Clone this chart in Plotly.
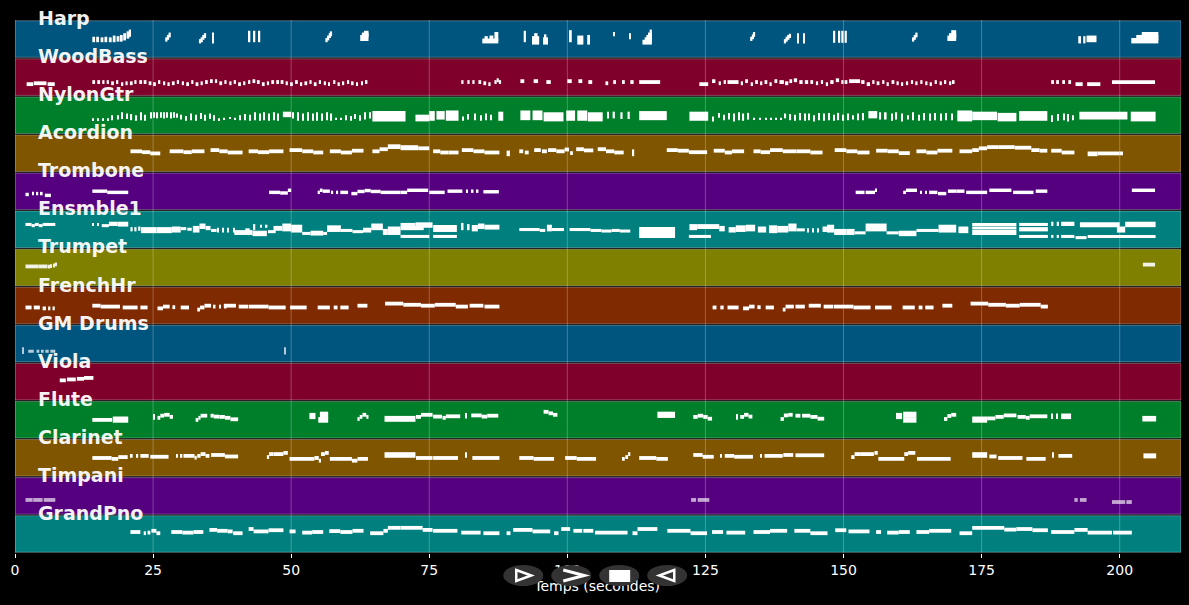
import plotly.graph_objects as go

WIDTH = 1189
HEIGHT = 605
LEFT = 14.5
RIGHT = 8
TOP = 20
AXIS_BOTTOM = 553

TIME_MAX = 211.1
TIME_TICKS = [0, 25, 50, 75, 100, 125, 150, 175, 200]
X_TITLE = "Temps (secondes)"

TRACK_NAMES = [
    "Harp", "WoodBass", "NylonGtr", "Acordion", "Trombone", "Ensmble1", "Trumpet",
    "FrenchHr", "GM Drums", "Viola", "Flute", "Clarinet", "Timpani", "GrandPno",
]
BAND_COLORS = [
    "#00557f", "#7f002a", "#007f2a", "#7f5500", "#55007f", "#007f7f", "#7f7f00",
    "#7f2a00", "#00557f", "#7f002a", "#007f2a", "#7f5500", "#55007f", "#007f7f",
]
NOTE_OPACITY = [1, 1, 1, 1, 1, 1, 0.9, 1, 0.7, 1, 1, 1, 0.65, 1]
NOTE_HEIGHTS = [0.08, 0.1, 0.05, 0.1, 0.09, 0.08, 0.1, 0.1, 0.08, 0.1, 0.1, 0.1, 0.1, 0.1]

# notes are (start, end, pitch) or (start, end, low pitch, high pitch) for stacks
HARP = [
    (14, 14.5, 58, 66), (14.7, 15.2, 58, 66), (15.5, 16, 58, 64), (16.2, 16.7, 58, 66),
    (17, 17.5, 58, 64), (17.7, 18.2, 58, 70), (18.4, 18.9, 60, 68), (19, 19.5, 60, 72),
    (19.6, 20.1, 64, 78), (20.2, 20.7, 70, 84), (20.6, 21, 76, 90),
    (27.2, 27.6, 60, 64), (27.5, 27.9, 66, 72), (27.8, 28.2, 74, 80),
    (33.3, 33.7, 54, 58), (33.6, 34, 58, 64), (33.9, 34.3, 66, 72), (34.2, 34.6, 72, 78), (35.7, 36, 54, 80),
    (42.3, 42.6, 58, 86), (43.2, 43.5, 58, 86), (44.1, 44.4, 58, 86),
    (56.2, 56.6, 58, 62), (56.5, 56.9, 64, 70), (56.8, 57.2, 72, 78), (57, 57.4, 78, 84),
    (62.5, 64, 62, 72), (62.8, 64, 74, 80), (63.2, 64, 80, 86),
    (84.6, 87.5, 54, 60), (85, 85.6, 62, 68), (85.9, 86.6, 62, 70), (86.8, 87.5, 62, 82),
    (92.1, 92.5, 58, 86), (93.6, 94.9, 50, 68), (94, 94.6, 70, 78), (95.6, 96.5, 50, 64), (95.9, 96.2, 66, 74),
    (100.3, 100.8, 58, 88), (101.8, 102.9, 50, 70), (103.6, 104.1, 50, 72),
    (108.3, 108.5, 78, 82), (111.2, 111.5, 68, 78),
    (113.6, 115.3, 50, 56), (114, 115.3, 58, 64), (114.3, 115.3, 66, 72), (114.6, 115.3, 74, 80), (114.9, 115.3, 82, 90),
    (133.1, 133.5, 62, 66), (133.4, 133.8, 68, 74), (133.6, 134, 76, 82),
    (139.2, 139.6, 54, 58), (139.5, 139.9, 60, 66), (139.8, 140.2, 66, 72), (140.1, 140.5, 72, 76),
    (141.6, 141.9, 54, 78), (142.7, 143, 54, 78),
    (148.1, 148.5, 56, 86), (149, 149.4, 56, 86), (149.6, 150, 56, 86), (150.2, 150.6, 56, 86),
    (162.4, 162.8, 60, 64), (162.7, 163.1, 66, 72), (163, 163.4, 74, 80),
    (168.8, 170.4, 62, 70), (169.1, 170.4, 72, 78), (169.5, 170.4, 80, 88),
    (192.5, 193, 54, 68), (193.4, 193.8, 54, 68), (194, 195.8, 58, 70),
    (202.1, 207, 54, 62), (203, 207, 64, 72), (204, 207, 74, 82),
]
WOODBASS = [
    (2.1, 3.3, 40), (3.4, 5.7, 43), (5.9, 7.2, 40),
    (14, 14.5, 47), (14.9, 15.4, 47), (15.8, 16.2, 47), (16.6, 17, 47), (17.4, 17.9, 43), (18.3, 18.7, 47),
    (19.2, 19.6, 40), (20, 20.4, 43), (20.8, 21.3, 43), (21.6, 22, 47), (22.5, 23, 47), (23.3, 23.8, 47),
    (24.2, 24.7, 43), (25, 25.5, 40), (25.9, 26.3, 47), (26.8, 27.2, 43), (27.6, 28, 40), (28.4, 28.9, 43),
    (29.3, 29.7, 47), (30.2, 30.6, 43), (31, 31.5, 40), (31.9, 32.3, 47), (32.7, 33.2, 40), (33.6, 34, 43),
    (34.4, 34.9, 47), (35.3, 35.8, 50), (36.2, 36.6, 50), (37, 37.5, 43), (37.9, 38.3, 47), (38.8, 39.2, 43),
    (39.6, 40, 47), (40.4, 40.9, 40), (41.3, 41.7, 43), (42.2, 42.6, 47), (43, 43.5, 50), (43.8, 44.3, 47),
    (44.7, 45.2, 40), (45.6, 46, 43), (46.4, 46.9, 47), (47.3, 47.8, 47), (48.1, 48.6, 47), (49, 49.4, 43),
    (49.8, 50.3, 40), (50.7, 51.2, 47), (51.6, 52, 40), (52.4, 52.9, 43), (53.3, 53.7, 47), (54.1, 54.6, 40),
    (55, 55.4, 47), (55.9, 56.3, 43), (56.7, 57, 40), (57.6, 58, 47), (58.4, 58.8, 40), (59.3, 59.6, 43),
    (60.1, 60.5, 47), (61, 61.3, 43), (61.8, 62.1, 40), (62.7, 63, 43), (63.5, 63.8, 47),
    (80.8, 81.2, 47), (81.9, 82.3, 47), (82.8, 83.2, 47), (83.9, 84.4, 47), (84.8, 85.3, 43), (85.7, 86.1, 40),
    (86.8, 87.2, 47), (87.2, 87.6, 53), (87.6, 88, 47),
    (91.5, 92.2, 50), (93.9, 94.7, 50), (96.2, 97, 47), (100, 100.8, 50), (102, 102.7, 50), (103.8, 104.5, 47),
    (106.9, 107.4, 43), (108.3, 108.8, 47), (109.9, 110.4, 47), (111.4, 112, 47),
    (113, 116.8, 47), (123.9, 125.5, 40),
    (126.2, 126.8, 50), (127.4, 127.8, 43), (128.3, 128.7, 47), (129, 131, 47), (131.4, 131.8, 43),
    (132.2, 132.7, 50), (133.2, 133.6, 40), (134, 134.5, 47), (134.9, 135.3, 43), (135.7, 136.2, 47),
    (136.6, 137, 40), (137.5, 138, 50), (138.4, 139.2, 47), (139.4, 140, 43), (140.2, 140.7, 50),
    (141, 141.6, 53), (142, 142.6, 47), (143, 143.6, 47), (144, 144.5, 47), (145, 145.4, 43), (145.9, 146.3, 47),
    (146.8, 147.2, 40), (147.6, 148.2, 47), (148.6, 149.2, 53), (149.6, 150, 47), (150.2, 150.7, 47),
    (151, 153, 50), (153.2, 153.8, 47), (154.2, 154.8, 40), (155.2, 155.6, 47), (156, 156.5, 43),
    (157, 157.4, 47), (157.8, 158.2, 40), (158.7, 159.2, 47), (159.6, 160, 43), (160.5, 160.8, 40),
    (161.3, 161.7, 43), (162.2, 162.6, 47), (163, 163.4, 43), (163.9, 164.3, 47), (164.8, 165.2, 43),
    (165.6, 166, 40), (166.5, 166.9, 47), (167.4, 167.8, 43), (168.2, 168.6, 47), (169.1, 169.5, 43), (169.8, 170.1, 47),
    (187.6, 188.1, 47), (188.5, 189, 47), (189.6, 190.1, 47), (190.7, 191.2, 47),
    (192, 193.3, 40), (194.1, 196.5, 40), (198.6, 206.4, 47),
]
NYLONGTR = [
    (14, 14.2, 50), (15, 15.2, 50), (15.9, 16.1, 50), (16.7, 16.9, 50),
    (17.5, 17.7, 50, 60), (18.5, 18.7, 52, 60), (19.3, 19.5, 54, 70), (20.2, 20.4, 54, 66), (21, 21.2, 50, 64),
    (21.9, 22.1, 48, 60), (22.7, 22.9, 50, 70), (23.5, 23.7, 48, 62), (24.5, 24.7, 56, 70), (25.1, 25.3, 58, 70),
    (25.7, 25.9, 56, 70), (26.3, 26.5, 58, 70), (26.9, 27.1, 56, 70), (27.5, 27.7, 58, 70), (28.1, 28.3, 56, 70),
    (28.7, 28.9, 58, 70), (29.3, 29.5, 58, 66), (30, 30.2, 52, 62), (30.9, 31.1, 48, 58), (31.8, 32, 50, 66),
    (32.6, 32.8, 48, 62), (33.5, 33.7, 54, 68), (34.3, 34.5, 48, 62), (35.2, 35.4, 54, 66), (36, 36.2, 48, 60),
    (36.9, 37.1, 50), (37.8, 38, 52), (38.8, 39, 54), (39.7, 39.9, 52), (40.6, 40.8, 50, 60), (41.5, 41.7, 50, 64),
    (42.4, 42.6, 48, 62), (43.3, 43.5, 50, 70), (44.2, 44.4, 48, 66), (45, 45.2, 50, 70), (45.9, 46.1, 48, 66),
    (46.8, 47, 50, 70), (47.6, 47.8, 48, 66), (48.5, 50, 60, 72), (50.2, 50.5, 56, 70), (51.1, 51.3, 48, 70),
    (52, 52.2, 48, 66), (52.9, 53.1, 48, 70), (53.8, 54, 48, 66), (54.6, 54.8, 48, 70), (55.5, 55.7, 48, 66),
    (56.4, 56.6, 50, 70), (57.2, 57.4, 48, 66), (58, 58.2, 52), (59, 59.2, 52), (59.9, 60.1, 50, 60),
    (60.8, 61, 48, 58), (61.5, 61.7, 54, 64), (62.4, 62.6, 48, 60), (63.2, 63.4, 52, 70),
    (64.1, 64.3, 56, 70), (64.7, 70.7, 46, 74), (72.5, 75, 46, 62), (75, 76, 48, 74), (76.3, 77.8, 52, 74), (78, 80.3, 48, 76),
    (81, 81.2, 48, 56), (82, 82.2, 52, 64), (83.1, 83.3, 50, 66), (84.2, 84.4, 48, 60), (85.1, 85.3, 50, 66),
    (86, 86.2, 50, 62), (87.5, 88.4, 48, 72),
    (91.5, 93.3, 50, 76), (93.7, 95.5, 50, 76), (95.7, 99.3, 46, 70), (99.8, 101.4, 48, 76), (101.8, 103.6, 48, 76), (103.7, 106.4, 46, 70),
    (107.2, 107.5, 56, 72), (108.2, 108.6, 56, 72), (109.6, 110, 54, 70), (110.9, 111.3, 54, 72),
    (113, 118, 50, 74), (122.1, 125.5, 48, 72),
    (126.2, 126.4, 46, 56), (127.4, 127.6, 58, 68), (128.3, 128.5, 50, 62), (129.2, 129.4, 52, 68), (130.1, 130.3, 46, 66),
    (131, 131.2, 50, 70), (131.8, 132, 48, 66), (132.7, 132.9, 52, 68), (133.7, 133.9, 52), (134.8, 135, 52), (135.8, 136, 52),
    (136.8, 137, 52), (137.7, 137.9, 52), (138.6, 138.8, 52), (139.4, 139.6, 56, 66), (140.3, 140.5, 50, 64),
    (141.1, 141.3, 48, 62), (142, 142.2, 50, 68), (142.9, 143.1, 48, 66), (143.7, 143.9, 50, 66), (144.6, 144.8, 46, 60),
    (145.5, 145.7, 50, 68), (146.4, 146.6, 48, 66), (147.3, 147.5, 50, 68), (148.2, 148.4, 48, 62), (149, 149.2, 50, 68),
    (149.9, 150.1, 48, 62), (150.8, 151, 50, 66), (151.7, 151.9, 52, 60), (152.5, 152.7, 50, 66), (153.4, 153.6, 50, 68),
    (154.5, 156.1, 56, 74), (156.5, 156.8, 52, 70), (157.5, 157.8, 52, 70), (158.6, 158.8, 48, 66), (159.5, 159.7, 52, 70),
    (160.5, 160.7, 46, 66), (161.5, 161.7, 52, 60), (162.5, 162.7, 50, 70), (163.5, 163.7, 48, 62),
    (164.5, 164.7, 50, 68), (165.5, 165.7, 48, 66), (166.5, 166.7, 50, 68), (167.5, 167.7, 48, 66), (168.5, 168.7, 50, 68), (169.6, 169.8, 50, 66),
    (170.6, 173.3, 46, 76), (173.3, 177.8, 50, 72), (177.9, 181.3, 46, 68), (181.8, 186.9, 48, 74),
    (187.6, 187.8, 44, 60), (188.8, 189, 48, 64), (189.8, 190, 50, 66), (190.5, 190.7, 46, 64), (191.5, 191.7, 50, 60),
    (192.7, 201.4, 52, 72), (202, 206.5, 46, 72),
]
ACORDION = [
    (20.9, 23, 70), (23, 24.5, 67), (24.5, 26.3, 63), (28, 30.5, 70), (30.5, 32, 67), (32, 34.3, 70),
    (35.4, 37, 74), (37, 38.5, 70), (38.5, 41.2, 66), (42.3, 44, 70), (44, 46, 67), (46, 48.6, 70),
    (49.7, 52, 74), (52, 54, 70), (54, 55.8, 66), (57, 59, 70), (59, 61, 66), (61, 63.1, 72),
    (64.7, 66, 70), (66, 67.5, 77), (67.5, 69.8, 84, 87), (69.8, 73, 80, 84), (73, 75, 80), (75.7, 77, 70),
    (77, 78.5, 66), (78.5, 80.3, 66), (80.9, 83, 74), (83, 85, 70), (85, 87.7, 66), (89, 89.6, 60, 66),
    (91.3, 92, 70), (92.3, 93, 66), (94, 95.2, 74), (95.4, 96.3, 70), (96.5, 98, 74), (98, 99.5, 70), (99.5, 100.3, 76), (100.5, 101, 64),
    (101.6, 103, 77), (103, 104.7, 73), (105.5, 107, 77), (107, 108.5, 70), (108.5, 110.2, 66), (111.8, 112.1, 60, 70),
    (118, 120, 74), (120, 122, 72), (122, 125.3, 67), (126.5, 128.5, 72), (128.5, 129.8, 66), (129.8, 132, 70),
    (133.7, 135, 70), (135, 136.7, 67), (136.7, 139, 74), (139, 141.5, 70), (141.5, 144, 70), (144, 146.2, 66),
    (148.4, 150.5, 74), (150.5, 152.5, 70), (152.5, 154.7, 66), (155.9, 158, 72), (158, 160, 70), (160, 162, 64),
    (163.2, 165, 70), (165, 167, 66), (167, 169.7, 72), (171, 173.3, 70), (173.3, 174.5, 74), (174.5, 176, 80),
    (176, 178, 84), (178, 181, 84), (181, 184, 82), (184, 185.5, 74), (185.5, 186.9, 72),
    (187.6, 189.5, 72), (189.5, 191.8, 66), (194.2, 196, 60, 63), (196, 200, 63), (200, 200.6, 63),
]
TROMBONE = [
    (1.9, 2.5, 53), (3.1, 3.4, 56), (3.9, 4.2, 56), (4.7, 5, 56), (5.4, 6.5, 50),
    (14, 16.7, 64), (16.7, 20.5, 60),
    (46, 48, 60), (48, 49.4, 58), (49.4, 50, 67),
    (54.8, 55.2, 60), (55.2, 55.7, 67), (55.7, 57, 64), (57.2, 57.6, 60), (58.2, 58.5, 60), (58.9, 60.3, 60),
    (60.9, 62, 56), (62, 63.3, 63), (63.3, 64.4, 66), (64.4, 66.2, 63), (66.2, 69.8, 60), (69.8, 71, 60),
    (71, 74.8, 67), (75, 77.8, 60), (78.3, 81, 64), (81.8, 82, 64), (82.7, 83, 64), (83.6, 83.9, 64), (84.8, 87.6, 62),
    (152.2, 153.8, 60), (154, 155.7, 60), (155.7, 156, 67),
    (160.8, 161.3, 60), (161.3, 163.3, 67), (163.9, 164.2, 60), (164.8, 165.1, 60), (165.5, 167, 60), (167.1, 168.6, 56),
    (168.9, 170.5, 64), (170.5, 171.9, 64), (172.2, 176, 60), (176.4, 180.4, 67), (180.7, 184.4, 60), (184.8, 186.9, 64),
    (202.2, 206.4, 67),
]
ENSMBLE1 = [
    (1.9, 3, 80), (3, 3.6, 76), (3.6, 4.3, 80), (4.3, 5, 76), (5, 7.3, 80),
    (14, 14.3, 80), (14.9, 15.2, 80), (15.7, 17, 76), (17, 18.6, 80, 84), (18.6, 20.5, 78, 84),
    (20.9, 21.3, 62, 66), (21.6, 22, 62, 66), (22.3, 22.7, 64, 68),
    (22.8, 25.6, 56, 66), (25.6, 28.4, 56, 66), (28.4, 30, 58, 68), (30, 31, 66), (31.2, 32, 64), (32.2, 33.4, 58, 70),
    (33.4, 34.5, 70, 78), (34.5, 35.4, 66, 70), (35.5, 36.5, 60), (36.7, 36.9, 58, 64), (37.6, 37.8, 58, 64), (38.5, 38.7, 58, 64), (39.5, 39.7, 58, 64),
    (39.7, 43, 50, 56), (43, 45.6, 46, 54), (41.7, 42.5, 62), (43.2, 43.5, 66, 76), (44.4, 44.7, 74), (45.4, 45.7, 74),
    (45.8, 47.2, 56), (46.8, 48.4, 64, 70), (48.4, 50, 62, 78), (50, 52, 58, 74), (52, 53.5, 50), (53.5, 55.8, 48, 54),
    (55.8, 56.5, 50), (56.5, 59, 60, 72), (59, 61.1, 60), (61.1, 63, 56), (63, 64.5, 58, 64), (64.5, 66.6, 66, 78),
    (66.6, 67.5, 50, 60), (67.5, 69.8, 50, 68), (69.8, 72.5, 80), (69.8, 74, 66, 70), (69.8, 75, 40), (72.5, 75.6, 74, 82),
    (75.7, 80, 73), (75.7, 80, 60, 63), (75.7, 80, 40),
    (80.9, 81.2, 66, 80), (82, 82.3, 66, 76), (82.7, 83.8, 62, 73), (83.8, 85, 70, 78), (85, 87.7, 68, 74),
    (91.3, 95, 63), (95, 96, 60), (96.3, 97.2, 62, 74), (97.2, 99.4, 63),
    (100.4, 104.2, 63), (104.2, 106.2, 60), (106.2, 108, 58), (108, 109.5, 60), (109.5, 111.4, 58),
    (113, 119.5, 40, 66),
    (122.1, 123.5, 66, 76), (123.5, 127.5, 70, 76), (122, 126, 40), (127.5, 128.5, 62, 70),
    (129.2, 130.5, 58, 66), (130.5, 132.3, 60, 72), (132.3, 134, 62, 74), (134.5, 136, 58, 68), (136.5, 138, 56, 72), (138, 140, 58, 70), (140, 141.5, 62, 78),
    (141.5, 143, 62), (143.5, 143.7, 58, 62), (144.4, 144.6, 58, 62), (145.2, 145.4, 58, 62), (146.2, 147, 60, 68), (147, 148.3, 58, 74),
    (148.3, 150.5, 50, 60), (150.5, 152, 50, 60), (152, 154, 52), (154, 157.8, 62, 78), (157.8, 160, 52), (160, 163.2, 46, 54),
    (163.2, 167.2, 60), (167.2, 170.4, 58, 74), (170.8, 172.6, 56, 68),
    (173.3, 181.3, 80), (173.3, 181.3, 68), (173.3, 181.3, 50, 56), (181.8, 187, 80), (181.8, 187, 62, 66), (181.8, 187, 40),
    (187.6, 188, 80, 84), (188.6, 189, 80, 84), (189.4, 191.8, 80, 84), (187.6, 188, 40), (188.6, 189, 40),
    (189.4, 191.8, 40), (192, 194, 36), (192.8, 200, 76, 82), (194.2, 200, 40),
    (199.5, 201, 58, 68), (201, 206.5, 76, 84), (198.8, 206.5, 40),
]
TRUMPET = [
    (1.9, 4.3, 67), (4.3, 5.9, 67), (6.1, 6.3, 66), (6.5, 6.7, 68), (6.9, 7.1, 70), (7.3, 7.5, 74),
    (204.2, 206.4, 73),
]
FRENCHHR = [
    (1.9, 3, 57), (3.4, 4.5, 57), (5, 5.6, 54), (6, 6.4, 54), (6.8, 7.2, 54),
    (14, 15.5, 63), (15.5, 19, 60), (19.5, 22.2, 57), (22.7, 24, 57),
    (25.8, 26.8, 54), (26.8, 28, 60), (28.5, 29, 58), (30, 31.5, 57),
    (33, 33.5, 50), (33.5, 34.3, 57), (34.3, 35.5, 63), (36, 36.3, 60), (37, 37.3, 60), (38, 38.3, 60),
    (37.8, 40, 63), (40.5, 42.2, 60), (42.3, 45.9, 60), (45.9, 49, 57), (49.8, 52.8, 57), (54.8, 57, 57),
    (57.7, 58.4, 57), (58.9, 60.4, 57), (62, 63.8, 63), (67, 70.3, 70), (70.3, 73.5, 66), (73.5, 76, 63),
    (76, 79.8, 66), (79.8, 82, 60), (82.3, 84.8, 63), (85, 87.7, 60),
    (126.3, 127, 57), (127.7, 128.3, 57), (129, 131, 57), (131.8, 132.9, 54), (132.9, 133.9, 60), (134.4, 135, 58),
    (135.9, 137.4, 57), (139, 139.5, 50), (139.5, 141, 60), (141.3, 143, 60), (143.7, 145.9, 63), (146.4, 148.1, 60),
    (148.2, 151.8, 60), (151.8, 154.9, 57), (155.7, 158.7, 57), (160.7, 162.9, 57), (163.6, 164.3, 57), (164.8, 166.3, 57),
    (167.9, 169.7, 63), (173, 176.2, 70), (176.2, 179.4, 66), (179.4, 181.9, 63), (181.9, 185.7, 66), (185.7, 187, 60),
]
GM_DRUMS = [
    (1.4, 1.6, 34, 46), (2.4, 3.4, 38), (3.9, 4.4, 38), (4.7, 5.2, 38), (5.5, 6.1, 38), (6.4, 7.3, 38),
    (48.8, 49, 32, 46),
]
VIOLA = [(8.1, 9.2, 68), (9.4, 11, 71), (11.2, 12.5, 73), (12.5, 14.2, 76)]
FLUTE = [
    (14, 17.6, 63), (17.7, 20.5, 60, 68),
    (25, 25.3, 70, 76), (25.8, 26.3, 70), (26.3, 27, 77), (27, 28, 80), (28, 28.6, 73),
    (32.7, 33.2, 63), (33.2, 33.6, 70), (33.6, 34.8, 77), (35.4, 36, 77), (36, 37, 74), (37, 38, 73), (38, 39, 70), (39, 40.4, 65),
    (53.3, 54.4, 72, 80), (55.2, 56.7, 77, 84), (54.9, 56.7, 60, 66),
    (62, 62.4, 66), (62.4, 62.9, 73), (62.9, 63.6, 80), (63.6, 64, 73),
    (66.9, 72.5, 63, 70), (72.6, 73.5, 73), (73.5, 75.6, 80), (75.7, 77.3, 74), (77.4, 78, 70), (78, 80.6, 75),
    (81.5, 81.7, 74, 80), (82.6, 84.5, 78), (84.5, 85.5, 74), (85.5, 87.5, 77),
    (95.7, 96.6, 90), (96.6, 97.4, 85), (97.4, 98.2, 80), (116.3, 119.5, 76, 84),
    (122.8, 123.6, 73), (123.6, 124.6, 77), (124.6, 125.4, 73), (125.4, 126.2, 67),
    (130.6, 130.9, 70, 76), (131.3, 132, 73), (132, 132.8, 80), (132.8, 133.5, 74),
    (138.6, 139.2, 66), (139.2, 140, 78), (140, 140.8, 80),
    (141.3, 142.2, 77), (142.5, 144, 77), (144, 145.3, 73), (145.3, 146.5, 67),
    (159.5, 160.6, 72, 80), (160.8, 163.2, 78, 84), (160.8, 163.2, 60, 66),
    (168.2, 168.8, 66), (168.8, 169.5, 76), (169.5, 170.4, 80),
    (173.3, 176, 60, 68), (176, 177.5, 68), (177.5, 179, 73), (179, 181.3, 78),
    (181.5, 183, 73), (183, 183.7, 70), (183.7, 186.9, 75), (187.6, 187.9, 72, 78), (188.5, 188.8, 72, 78),
    (189.4, 191.2, 72, 78), (204.1, 206.6, 64, 70),
]
CLARINET = [
    (14, 17.5, 63), (17.5, 18.7, 60), (18.7, 20.4, 66),
    (21, 21.3, 70), (22, 22.3, 70), (22.7, 24.2, 70), (24.5, 27.8, 67), (29.2, 29.5, 70),
    (30, 30.3, 70), (30.5, 32.5, 70), (32.5, 32.9, 64), (33, 33.6, 70), (33.6, 34.5, 76), (34.5, 35.2, 70),
    (35.5, 38, 73), (38, 40.4, 68), (45.6, 46, 66), (46, 46.8, 76), (46.8, 48.6, 76), (48.6, 49.4, 80),
    (49.7, 54.2, 60), (54.2, 55, 63), (55, 55.4, 54), (55.4, 56.1, 76), (56.1, 56.8, 80), (57, 61, 60), (61, 62, 54), (62, 63.9, 60),
    (66.9, 72.5, 70, 76), (72.6, 75.6, 63), (75.7, 80.2, 63), (81.5, 81.7, 70, 76), (82.8, 87.7, 63),
    (91.3, 93.9, 63), (93.9, 97.6, 60), (99.6, 101.7, 63), (101.7, 105.2, 60),
    (109.9, 110.4, 60), (110.5, 111, 66), (111, 111.4, 76), (113, 116.1, 63), (116.1, 118.2, 60),
    (122.8, 124.5, 73), (124.5, 126.5, 67), (127.8, 128, 70), (128.5, 130.2, 70), (130.2, 133.6, 67), (134.9, 135.1, 70),
    (135.7, 139, 70), (139.1, 140.9, 73), (141.3, 146.5, 72), (151.4, 152, 66), (152, 153, 76), (153, 155.5, 76), (155.6, 156.2, 80),
    (156.3, 161, 60), (161, 161.7, 76), (161.7, 163, 80), (163.3, 169.4, 60),
    (173.3, 176, 70, 76), (176.4, 177.7, 68), (178, 182.4, 63), (183.1, 186.6, 60), (187.8, 188.1, 70, 76), (188.9, 191.4, 70),
    (204.3, 206.6, 68, 72),
]
TIMPANI = [
    (1.9, 3.2, 50), (3.3, 5, 50), (5.2, 7.3, 50),
    (122.4, 123.3, 50), (123.6, 125.7, 50),
    (191.8, 192.4, 50), (192.8, 194, 50), (198.6, 201, 43), (201.2, 202.2, 43),
]
GRANDPNO = [
    (20.9, 22.7, 70), (23.3, 23.7, 66), (24, 24.5, 68), (24.7, 25.6, 74), (25.6, 26.3, 66),
    (28.3, 30.3, 70), (30.3, 32.3, 68), (32.3, 34.1, 70), (35.2, 36.6, 77), (36.6, 38.5, 74), (38.5, 39.4, 72), (39.5, 41.2, 66),
    (42.3, 43.2, 80), (43.2, 45.9, 72), (45.9, 48.6, 76), (49.7, 50.8, 72), (52, 53.8, 68), (53.8, 55.8, 70),
    (56.9, 58.9, 73), (58.9, 61.1, 70), (61.1, 63.1, 74), (64.3, 66.7, 66), (66.7, 67.5, 74), (67.5, 69.8, 84),
    (69.8, 73.8, 84), (73.8, 75.6, 77), (75.7, 80.1, 74), (80.8, 84.3, 68), (84.8, 87.7, 66),
    (89, 89.7, 66), (90.2, 93.7, 77), (93.7, 96.9, 72), (97.6, 98.4, 66), (98.9, 100.5, 80),
    (101.1, 102.7, 74), (102.9, 104.7, 74), (105, 110.9, 68), (111.8, 112.7, 66), (112.7, 116.3, 80),
    (118.1, 122.3, 74), (122.3, 125.3, 66), (126.2, 128.2, 70), (128.8, 132.2, 68), (133.7, 136.7, 70), (136.7, 139.8, 74),
    (141.1, 144, 74), (144, 147.1, 66), (148.5, 150.5, 76), (150.9, 154.7, 72), (155.9, 156.8, 70),
    (157.9, 160, 68), (160, 162, 70), (163.2, 165.5, 70), (165.5, 169.5, 74), (171, 173.3, 66),
    (173.3, 179.1, 84), (179.1, 181.3, 78), (181.3, 184.2, 80), (184.2, 187, 76), (187.6, 191.8, 70),
    (191.8, 194.2, 77), (194.2, 198.6, 68), (198.8, 202.2, 68),
]
TRACK_NOTES = [
    HARP, WOODBASS, NYLONGTR, ACORDION, TROMBONE, ENSMBLE1, TRUMPET,
    FRENCHHR, GM_DRUMS, VIOLA, FLUTE, CLARINET, TIMPANI, GRANDPNO,
]

MAX_PITCH = 127
n_tracks = len(TRACK_NAMES)
track_px = (AXIS_BOTTOM - TOP) / n_tracks


def px_x(px):
    return (px - LEFT) / (WIDTH - LEFT - RIGHT)


def px_y(py):
    return 1 - (py - TOP) / (HEIGHT - TOP)


def px_path(points, close=True):
    coords = " L ".join("%.4f %.4f" % (px_x(x), px_y(y)) for x, y in points)
    return "M " + coords + (" Z" if close else "")


fig = go.Figure()

shapes = []
annotations = []
for idx, name in enumerate(TRACK_NAMES):
    row = n_tracks - 1 - idx
    shapes.append(
        dict(
            type="rect",
            xref="x",
            yref="y",
            x0=0,
            x1=TIME_MAX,
            y0=row + 0.02,
            y1=row + 0.98,
            fillcolor=BAND_COLORS[idx],
            line=dict(color="rgba(255,255,255,0.3)", width=1),
            layer="below",
        )
    )
    annotations.append(
        dict(
            x=4.25,
            y=row + 1,
            xref="x",
            yref="y",
            xshift=-2,
            yshift=2,
            text=name,
            showarrow=False,
            xanchor="left",
            yanchor="middle",
            font=dict(family="DejaVu Sans", size=19, color="rgba(255,255,255,0.95)", weight="bold"),
        )
    )

    notes = TRACK_NOTES[idx]
    starts = [n[0] for n in notes]
    lengths = [n[1] - n[0] for n in notes]
    centers = [row + (n[2] + n[-1]) / 2 / MAX_PITCH for n in notes]
    heights = [NOTE_HEIGHTS[idx] + (n[-1] - n[2]) / MAX_PITCH for n in notes]
    fig.add_trace(
        go.Bar(
            orientation="h",
            base=starts,
            x=lengths,
            y=centers,
            width=heights,
            name=name,
            opacity=NOTE_OPACITY[idx],
            marker=dict(color="white", line=dict(width=0)),
            showlegend=False,
        )
    )

# grid only spans the tracks, the plot area itself runs down to the page bottom
for tick in TIME_TICKS:
    shapes.append(
        dict(
            type="line",
            xref="x",
            yref="y",
            x0=tick,
            x1=tick,
            y0=0,
            y1=n_tracks,
            line=dict(color="rgba(255,255,255,0.25)", width=1),
            layer="below",
        )
    )

# axis title as a text trace so the player buttons sit on top of it
fig.add_trace(
    go.Scatter(
        x=[105.4],
        y=[-34 / track_px],
        mode="text",
        text=[X_TITLE],
        textfont=dict(family="DejaVu Sans", size=14, color="white"),
        showlegend=False,
        hoverinfo="skip",
    )
)

# player buttons
for cx in [523, 571, 619, 667]:
    shapes.append(
        dict(
            type="circle",
            xref="paper",
            yref="paper",
            x0=px_x(cx - 20),
            x1=px_x(cx + 20),
            y0=px_y(586),
            y1=px_y(565),
            fillcolor="#333333",
            line=dict(width=0),
            layer="above",
        )
    )
glyph = dict(type="path", xref="paper", yref="paper", layer="above")
shapes.append(dict(glyph, path=px_path([(516, 570), (531, 575.5), (516, 581)]), line=dict(color="white", width=2.5)))
shapes.append(dict(glyph, path=px_path([(563, 570), (584, 575.5), (563, 581)], close=False), line=dict(color="white", width=3)))
shapes.append(dict(glyph, path=px_path([(609, 570), (630, 570), (630, 582), (609, 582)]), fillcolor="white", line=dict(width=0)))
shapes.append(dict(glyph, path=px_path([(674, 570), (659, 575.5), (674, 581)]), line=dict(color="white", width=2.5)))

fig.update_layout(
    width=WIDTH,
    height=HEIGHT,
    margin=dict(l=LEFT, r=RIGHT, t=TOP, b=0, autoexpand=False),
    paper_bgcolor="black",
    plot_bgcolor="black",
    barmode="overlay",
    shapes=shapes,
    annotations=annotations,
    font=dict(family="DejaVu Sans", color="white"),
)
fig.update_xaxes(
    range=[0, TIME_MAX],
    tickvals=TIME_TICKS,
    ticks="outside",
    ticklen=4,
    tickcolor="white",
    tickfont=dict(size=14, color="white"),
    anchor="free",
    position=px_y(AXIS_BOTTOM),
    showgrid=False,
    zeroline=False,
    showline=False,
)
fig.update_yaxes(
    range=[-(HEIGHT - AXIS_BOTTOM) / track_px, n_tracks],
    showticklabels=False,
    ticks="",
    showgrid=False,
    zeroline=False,
    showline=False,
)

fig.write_html(
    "out.html",
    config=dict(displayModeBar=False),
    post_script="document.body.style.margin='0';document.body.style.background='black';document.body.style.overflow='hidden';",
)
